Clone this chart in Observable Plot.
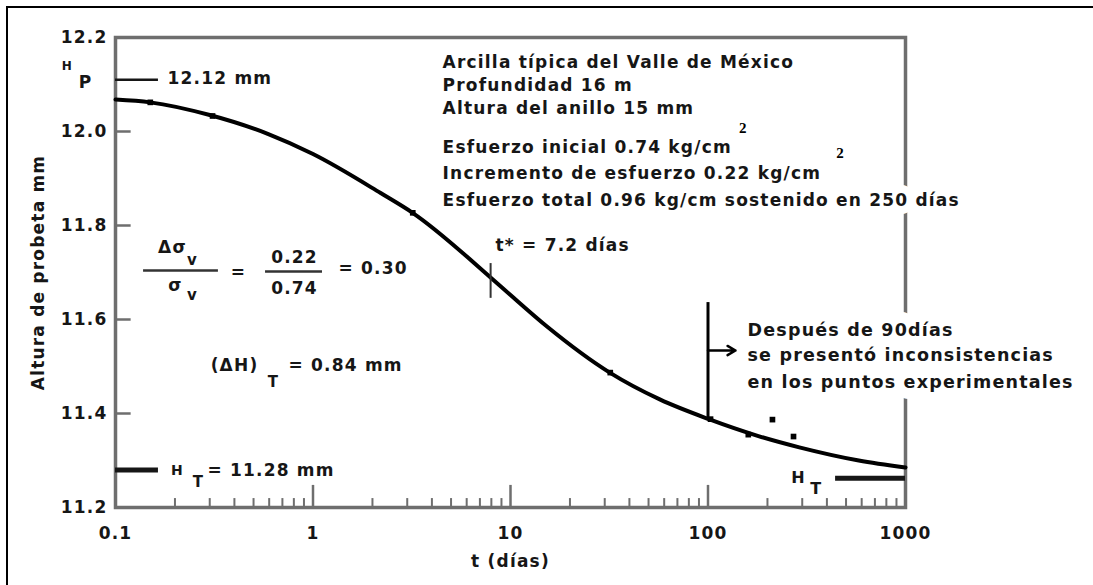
<!DOCTYPE html>
<html><head><meta charset="utf-8">
<script src="https://cdn.jsdelivr.net/npm/d3@7"></script>
<script src="https://cdn.jsdelivr.net/npm/@observablehq/plot@0.6"></script>
<style>
html,body{margin:0;padding:0;background:#fff;}
#wrap{position:relative;width:1093px;height:585px;overflow:hidden;}
#border{position:absolute;left:6px;top:6px;width:1200px;height:700px;border-top:2.5px solid #000;border-left:2.5px solid #000;pointer-events:none;}
</style></head><body>
<div id="wrap"><div id="chart"></div><div id="border"></div></div>
<script>
// consolidation curve (t in days, height in mm)
const curveT = [0.1, 0.15, 0.3, 0.59, 1, 2.2, 3.22, 7.9, 10, 15.3, 31.8, 57, 101, 180, 290, 580, 1000];
const curveH = [12.068, 12.062, 12.035, 11.995, 11.952, 11.869, 11.826, 11.69, 11.652, 11.585, 11.487, 11.43, 11.388, 11.352, 11.328, 11.30, 11.285];
// experimental points
const pointT = [0.15, 0.31, 3.2, 32, 103, 160, 212, 271];
const pointH = [12.062, 12.033, 11.827, 11.487, 11.388, 11.355, 11.387, 11.351];
// axes
const xTicks = [0.1, 1, 10, 100, 1000];
const xMajor = [1, 10, 100];
const xMinor = [0.2,0.3,0.4,0.5,0.6,0.7,0.8,0.9, 2,3,4,5,6,7,8,9, 20,30,40,50,60,70,80,90, 200,300,400,500,600,700,800,900];
const yTicks = [11.2, 11.4, 11.6, 11.8, 12.0, 12.2];
const yInnerTicks = [11.4, 11.6, 11.8, 12.0];
const xLabel = "t (días)";
const yLabel = "Altura de probeta mm";
// annotation texts
const infoLines = ["Arcilla típica del Valle de México", "Profundidad 16 m", "Altura del anillo 15 mm", "Esfuerzo inicial 0.74 kg/cm", "Incremento de esfuerzo 0.22 kg/cm", "Esfuerzo total 0.96 kg/cm sostenido en 250 días"];
const infoH = [12.147, 12.098, 12.049, 11.966, 11.911, 11.853];
const infoT = 4.53;
const supT = [151, 469];
const supH = [12.006, 11.953];
const notaLines = ["Después de 90días", "se presentó inconsistencias", "en los puntos experimentales"];
const notaH = [11.577, 11.523, 11.466];
const notaT = 158.5;
const HP = 12.11, HT = 11.28, HTright = 11.262;

const curve = curveT.map((t, i) => ({t, h: curveH[i]}));
const points = pointT.map((t, i) => ({t, h: pointH[i]}));
const info = infoLines.map((s, i) => ({t: infoT, h: infoH[i], s}));
const nota = notaLines.map((s, i) => ({t: notaT, h: notaH[i], s}));
const sups = supT.map((t, i) => ({t, h: supH[i], s: "2"}));

const ink = "#161616", gray = "#6e6e6e";

const chart = Plot.plot({
  width: 1093, height: 585,
  marginLeft: 115, marginRight: 188, marginTop: 37, marginBottom: 78,
  x: {type: "log", domain: [0.1, 1000]},
  y: {domain: [11.2, 12.2]},
  style: {fontFamily: "'DejaVu Sans', sans-serif", fontSize: "17px", fontWeight: "bold", letterSpacing: "1.2px", color: ink, background: "transparent", overflow: "visible"},
  marks: [
    Plot.frame({stroke: gray, strokeWidth: 3.5}),
    Plot.axisX({ticks: xTicks, tickSize: 0, tickPadding: 19, tickFormat: d => String(d), label: null}),
    Plot.axisY({ticks: yTicks, tickSize: 0, tickPadding: 8, tickFormat: d3.format(".1f"), label: null}),
    Plot.ruleX(xMajor, {x: d => d, y1: 11.2, y2: 11.247, stroke: gray, strokeWidth: 2.5}),
    Plot.ruleX(xMinor, {x: d => d, y1: 11.2, y2: 11.219, stroke: gray, strokeWidth: 2}),
    Plot.ruleY(yInnerTicks, {y: d => d, x1: 0.1, x2: 0.12, stroke: gray, strokeWidth: 2.5}),
    // axis titles
    Plot.text([xLabel], {text: d => d, frameAnchor: "bottom", dy: 59, fill: ink}),
    Plot.text([yLabel], {text: d => d, frameAnchor: "left", textAnchor: "middle", dx: -77, rotate: -90, fill: ink}),
    // halos (white background of the labels that cut the frame)
    Plot.text(info, {x: "t", y: "h", text: "s", textAnchor: "start", fill: "white", stroke: "white", strokeWidth: 16}),
    Plot.text(nota, {x: "t", y: "h", text: "s", textAnchor: "start", fontSize: 17.5, fill: "white", stroke: "white", strokeWidth: 22}),
    // curve and points
    Plot.line(curve, {x: "t", y: "h", curve: "monotone-x", stroke: "#000", strokeWidth: 4}),
    Plot.dot(points, {x: "t", y: "h", symbol: "square", r: 3.2, fill: "#000"}),
    // H_P
    Plot.ruleY([HP], {y: d => d, x1: 0.1, x2: 0.165, stroke: ink, strokeWidth: 2.5}),
    Plot.text(["12.12 mm"], {x: 0.1834, y: 12.113, text: d => d, textAnchor: "start", fill: ink}),
    Plot.text(["H"], {x: 0.0571, y: 12.14, text: d => d, fontSize: 12, fill: ink}),
    Plot.text(["P"], {x: 0.0705, y: 12.104, text: d => d, fontSize: 17, fill: ink}),
    // H_T left
    Plot.ruleY([HT], {y: d => d, x1: 0.1, x2: 0.165, stroke: ink, strokeWidth: 5}),
    Plot.text(["H"], {x: 0.206, y: 11.279, text: d => d, fontSize: 14, fill: ink}),
    Plot.text(["T"], {x: 0.263, y: 11.253, text: d => d, fontSize: 15, fill: ink}),
    Plot.text(["= 11.28 mm"], {x: 0.292, y: 11.279, text: d => d, textAnchor: "start", fill: ink}),
    // H_T right
    Plot.ruleY([HTright], {y: d => d, x1: 442.6, x2: 1000, stroke: ink, strokeWidth: 5}),
    Plot.text(["H"], {x: 287, y: 11.264, text: d => d, fontSize: 16, fill: ink}),
    Plot.text(["T"], {x: 354, y: 11.24, text: d => d, fontSize: 16, fill: ink}),
    // fraction
    Plot.text(["Δσ"], {x: 0.1943, y: 11.753, text: d => d, fill: ink}),
    Plot.text(["v"], {x: 0.2454, y: 11.7255, text: d => d, fill: ink, fontSize: 15}),
    Plot.ruleY([11.704], {y: d => d, x1: 0.1387, x2: 0.332, stroke: "#333", strokeWidth: 2.5}),
    Plot.text(["σ"], {x: 0.2013, y: 11.672, text: d => d, fill: ink}),
    Plot.text(["v"], {x: 0.2454, y: 11.651, text: d => d, fill: ink, fontSize: 15}),
    Plot.text(["="], {x: 0.4196, y: 11.70, text: d => d, fill: ink}),
    Plot.text(["0.22"], {x: 0.806, y: 11.732, text: d => d, fill: ink}),
    Plot.ruleY([11.702], {y: d => d, x1: 0.575, x2: 1.117, stroke: "#333", strokeWidth: 2.5}),
    Plot.text(["0.74"], {x: 0.806, y: 11.666, text: d => d, fill: ink}),
    Plot.text(["= 0.30"], {x: 1.346, y: 11.709, text: d => d, textAnchor: "start", fill: ink}),
    // (ΔH)_T
    Plot.text(["(ΔH)"], {x: 0.4004, y: 11.502, text: d => d, fill: ink}),
    Plot.text(["T"], {x: 0.631, y: 11.466, text: d => d, fill: ink, fontSize: 15}),
    Plot.text(["= 0.84 mm"], {x: 0.7516, y: 11.502, text: d => d, textAnchor: "start", fill: ink}),
    // t*
    Plot.ruleX([7.93], {x: d => d, y1: 11.645, y2: 11.719, stroke: "#333", strokeWidth: 2}),
    Plot.text(["t* = 7.2 días"], {x: 8.4, y: 11.757, text: d => d, textAnchor: "start", fill: ink}),
    // info block
    Plot.text(info, {x: "t", y: "h", text: "s", textAnchor: "start", fill: ink}),
    Plot.text(sups, {x: "t", y: "h", text: "s", fontFamily: "'Liberation Serif', serif", fontSize: 15, fill: "#000"}),
    // note after 90 days
    Plot.ruleX([100], {x: d => d, y1: 11.391, y2: 11.636, stroke: "#000", strokeWidth: 3}),
    Plot.arrow([0], {x1: 100, x2: 137.8, y1: 11.534, y2: 11.534, stroke: "#000", strokeWidth: 2.5, headLength: 10}),
    Plot.text(nota, {x: "t", y: "h", text: "s", textAnchor: "start", fontSize: 17.5, fill: ink})
  ]
});
document.getElementById("chart").appendChild(chart);
</script>
</body></html>
